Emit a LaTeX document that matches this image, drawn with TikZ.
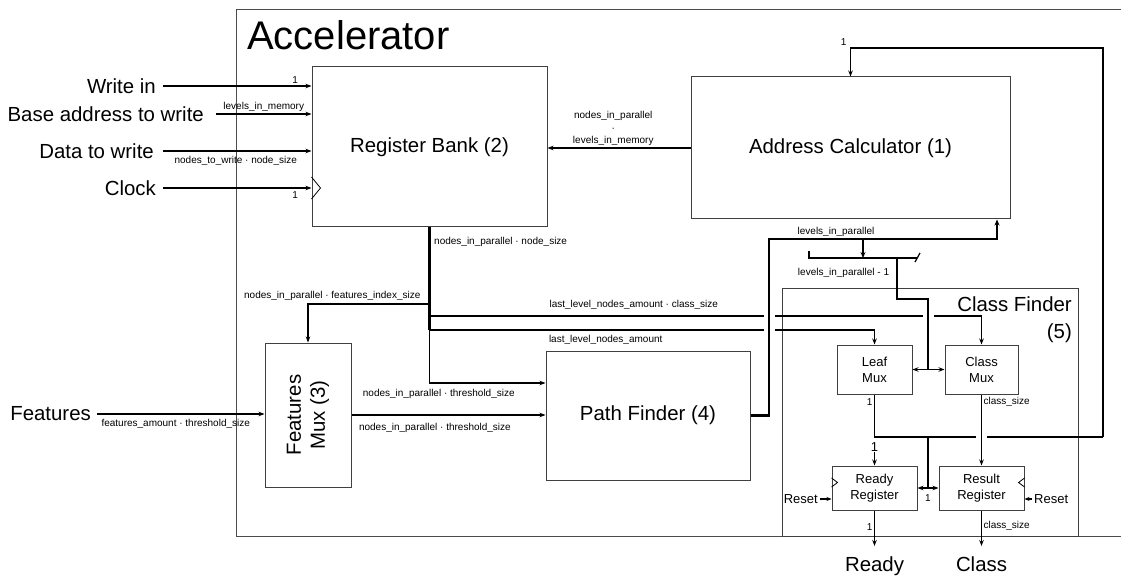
\documentclass[tikz,border=0pt]{standalone}
\usepackage{fontspec}
\setmainfont{Liberation Sans}
\usetikzlibrary{arrows.meta,positioning}
\begin{document}
\begin{tikzpicture}[x=1pt,y=-1pt,
    every node/.style={inner sep=0pt},
    big/.style={font=\fontsize{20.4}{24}\selectfont},
    mid/.style={font=\fontsize{13}{16}\selectfont},
    lbl/.style={font=\fontsize{10}{12.5}\selectfont, inner sep=1.5pt},
    blk/.style={draw=black!75, line width=1pt, big, align=center},
    sblk/.style={blk, mid},
    wire/.style={line width=1.2pt},
    bus/.style={line width=2.4pt},
    arr/.style={wire, -{Stealth[length=6pt,width=4.5pt]}},
    darr/.style={wire, {Stealth[length=6pt,width=4.5pt]}-{Stealth[length=6pt,width=4.5pt]}},
  ]
  \def\jump(#1,#2){\fill[white] (#1-5.5,#2-3) rectangle (#1+5.5,#2+3);}
  \useasboundingbox (0,0) rectangle (1121,577);

  % accelerator frame
  \draw[draw=black!70, line width=1pt] (236,10) rectangle (1140,536);
  \node[font=\fontsize{40}{44}\selectfont, anchor=base west] (acc) at (247,50) {Accelerator};

  % blocks
  \node[blk, minimum width=235, minimum height=160] (rb) at (429.5,147) {Register Bank (2)};
  \node[blk, minimum width=319, minimum height=142] (ac) at (850.5,148) {Address Calculator (1)};
  \node[blk, minimum width=86, minimum height=144] (fm) at (308,415) {};
  \node[big, rotate=90, align=center] (fmt) at (fm.center) {Features\\Mux (3)};
  \node[blk, minimum width=204, minimum height=129] (pf) at (648,415.5) {Path Finder (4)};

  % class finder
  \draw[draw=black!75, line width=1pt] (782,288) rectangle (1078,536);
  \node[big, align=right, anchor=north east, font=\fontsize{20.4}{27}\selectfont] (cft) at (1072,297) {Class Finder\\(5)};
  \node[sblk, minimum width=75, minimum height=49] (lm) at (874.5,369.5) {Leaf\\Mux};
  \node[sblk, minimum width=73, minimum height=49] (cm) at (981.5,369.5) {Class\\Mux};
  \node[sblk, minimum width=85, minimum height=44] (rr) at (874.5,488) {Ready\\Register};
  \node[sblk, minimum width=85, minimum height=44] (res) at (981.5,488) {Result\\Register};

  % inputs
  \node[big, anchor=east] (win) at (156,86) {Write in};
  \node[big, anchor=east] (base) at (204,114) {Base address to write};
  \node[big, anchor=east] (dtw) at (154,151) {Data to write};
  \node[big, anchor=east] (clk) at (156,188) {Clock};
  \node[big, anchor=east] (feat) at (91,414) {Features};

  \draw[arr] ([xshift=7pt]win.east) -- (win -| rb.west) node[lbl, pos=0.89, above] {1};
  \draw[arr] ([xshift=12pt]base.east) -- (base -| rb.west) node[lbl, midway, above] {levels\_in\_memory};
  \draw[arr] ([xshift=9pt]dtw.east) -- (dtw -| rb.west) node[lbl, pos=0.49, below, yshift=-3pt] {nodes\_to\_write · node\_size};
  \draw[arr] ([xshift=7pt]clk.east) -- (clk -| rb.west) node[lbl, pos=0.89, below, yshift=-2pt] {1};
  \draw[line width=0.8pt] (clk -| rb.west) ++(0,-11) -- ++(9,11) -- ++(-9,11);

  \draw[arr] (ac.west) -- (ac.west -| rb.east) node[lbl, pos=0.54, above, align=center] {nodes\_in\_parallel\\·\\levels\_in\_memory};

  % register bank output
  \coordinate (b1) at (429.5,304);
  \coordinate (b2) at (429.5,316);
  \coordinate (b3) at (429.5,330);
  \draw[bus] (rb.south) -- (b3) node[lbl, pos=0.14, right, xshift=2pt] {nodes\_in\_parallel · node\_size};
  \draw[arr] (b1) -| (fm.north) node[lbl, pos=0, above left, xshift=-7pt, yshift=1pt] {nodes\_in\_parallel · features\_index\_size};
  \draw[arr] (b2) -| (cm.north) node[lbl, pos=0.185, above, yshift=4pt] {last\_level\_nodes\_amount · class\_size};
  \draw[arr] (b3) -| (lm.north) node[lbl, pos=0.198, below, yshift=-3pt] {last\_level\_nodes\_amount};
  \draw[arr] (b3) |- ([yshift=32.5pt]pf.west) node[lbl, pos=0.54, below, yshift=-4pt] {nodes\_in\_parallel · threshold\_size};
  \draw[arr] (fm.east) -- (fm.east -| pf.west) node[lbl, pos=0.43, below, yshift=-6pt] {nodes\_in\_parallel · threshold\_size};
  \draw[arr] ([xshift=6pt]feat.east) -- (feat -| fm.west) node[lbl, pos=0.47, below, yshift=-3pt] {features\_amount · threshold\_size};

  \jump(769,316) \jump(769,330) \jump(928,316)

  % levels in parallel
  \coordinate (lpl) at (769,239);
  \draw[bus, -{Stealth[length=6pt,width=5pt]}] (pf.east) -| (lpl) -| ([xshift=146.5pt]ac.south) node[lbl, pos=0.147, above] {levels\_in\_parallel};
  \coordinate (lps) at (863,239);
  \coordinate (spl) at (863,258);
  \draw[bus, -{Stealth[length=6pt,width=5pt]}] (lps) -- (spl);
  \coordinate (sl) at (809,251);
  \coordinate (sr) at (917,258);
  \draw[wire] (sl) |- (sr) node[lbl, pos=0.66, below, yshift=-8pt] {levels\_in\_parallel - 1};
  \draw[wire] (sr) ++(-2,4) -- ++(5,-9);
  \coordinate (sj) at (897,258);
  \coordinate (mj) at (928,369.5);
  \draw[bus] (sj) -- ++(0,41) -| (mj);
  \draw[darr] (lm.east) -- (cm.west);

  % feedback to address calculator
  \coordinate (fb) at (1103,437);
  \coordinate (fbt) at (1103,48);
  \draw[wire] (lm.south) |- (fb) node[lbl, pos=0.09, left] {1};
  \draw[arr] (fb) -- (fbt) -| (ac.north) node[lbl, pos=0.5, above left, xshift=-2pt] {1};
  \coordinate (jt) at (928,437);
  \coordinate (jr) at (928,488);
  \draw[wire] (jt) -- (jr) node[lbl, below, yshift=-5pt] {1};
  \draw[darr] (rr.east) -- (res.west);
  \jump(981.5,437)
  \draw[arr] (cm.south) -- (res.north) node[lbl, pos=0.11, right] {class\_size};

  % registers
  \node[mid] (one) at (874.5,447) {1};
  \draw[arr] (one) -- (rr.north);
  \draw[line width=0.8pt] (rr.west) ++(0,-10) -- ++(6,4.5) -- ++(-6,4.5);
  \draw[line width=0.8pt] (res.east) ++(0,-10) -- ++(-6,4.5) -- ++(6,4.5);
  \node[mid, anchor=east] (rstl) at (818,499) {Reset};
  \draw[wire, -{Stealth[length=5pt,width=4pt]}] ([xshift=2pt]rstl.east) -- (rstl -| rr.west);
  \node[mid, anchor=west] (rstr) at (1034,499) {Reset};
  \draw[wire, -{Stealth[length=5pt,width=4pt]}] ([xshift=-2pt]rstr.west) -- (rstr -| res.east);

  % outputs
  \node[big, anchor=north] (rdy) at (874.5,557) {Ready};
  \node[big, anchor=north] (cls) at (981.5,557) {Class};
  \draw[arr, shorten >=11pt] (rr.south) -- (rdy.north) node[lbl, pos=0.35, left] {1};
  \draw[arr, shorten >=11pt] (res.south) -- (cls.north) node[lbl, pos=0.33, right] {class\_size};
\end{tikzpicture}
\end{document}
